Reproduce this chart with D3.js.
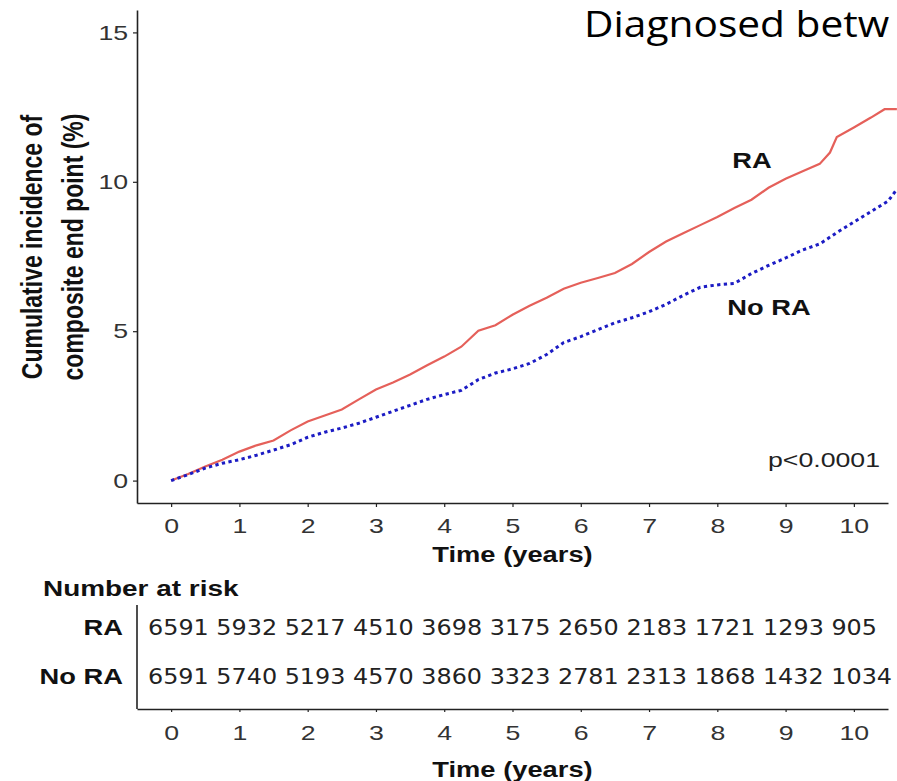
<!DOCTYPE html>
<html>
<head>
<meta charset="utf-8">
<script src="https://cdn.jsdelivr.net/npm/d3@7"></script>
<style>
body{margin:0;background:#fff;}
svg{display:block;}
</style>
</head>
<body>
<div id="chart"></div>
<script>
// cumulative incidence (%)
var raTime  = [0,0.25,0.5,0.75,1,1.25,1.5,1.75,2,2.25,2.5,2.75,3,3.25,3.5,3.75,4,4.25,4.5,4.75,5,5.25,5.5,5.75,6,6.25,6.5,6.75,7,7.25,7.5,7.75,8,8.25,8.5,8.75,9,9.25,9.5,9.65,9.75,10,10.25,10.45,10.63];
var raValue = [0,0.22,0.47,0.70,0.97,1.18,1.34,1.68,1.98,2.18,2.38,2.72,3.05,3.28,3.55,3.86,4.15,4.48,5.02,5.20,5.55,5.85,6.12,6.42,6.62,6.78,6.95,7.25,7.65,8.00,8.28,8.55,8.82,9.12,9.40,9.80,10.10,10.35,10.60,10.98,11.50,11.82,12.15,12.43,12.43];

var noRaTime  = [0,0.25,0.5,0.75,1,1.25,1.5,1.75,2,2.25,2.5,2.75,3,3.25,3.5,3.75,4,4.25,4.5,4.75,5,5.25,5.5,5.75,6,6.25,6.5,6.75,7,7.25,7.5,7.75,8,8.25,8.5,8.75,9,9.25,9.5,9.75,10,10.25,10.5,10.63];
var noRaValue = [0,0.20,0.42,0.58,0.70,0.85,1.02,1.20,1.45,1.62,1.76,1.92,2.12,2.32,2.52,2.72,2.88,3.02,3.38,3.60,3.74,3.92,4.22,4.62,4.82,5.05,5.28,5.45,5.65,5.90,6.20,6.47,6.55,6.60,6.93,7.20,7.45,7.72,7.92,8.30,8.65,9.00,9.35,9.75];

var yTicks = [0,5,10,15];
var xTicks = [0,1,2,3,4,5,6,7,8,9,10];

var riskRows = ["RA","No RA"];
var riskRA   = [6591,5932,5217,4510,3698,3175,2650,2183,1721,1293,905];
var riskNoRA = [6591,5740,5193,4570,3860,3323,2781,2313,1868,1432,1034];

var W = 897, H = 781, SX = 1.27;
var axisFont = "'Liberation Sans', Arial, Helvetica, sans-serif";

var svg = d3.select("#chart").append("svg")
    .attr("width", W)
    .attr("height", H);

var x = d3.scaleLinear().domain([-0.5, 10.5]).range([137, 888]);
var y = d3.scaleLinear().domain([-0.75, 15.75]).range([503, 10]);

function label(txt, px, py, size, weight, anchor, rot) {
    var t = svg.append("text")
        .attr("transform", "translate(" + px + "," + py + ") scale(" + SX + ",1)" + (rot ? " rotate(" + rot + ")" : ""))
        .attr("text-anchor", anchor)
        .style("font-family", axisFont)
        .style("font-size", size + "px")
        .style("font-weight", weight)
        .style("fill", "#111")
        .text(txt);
    return t;
}

// title from the slide
svg.append("text")
    .attr("transform", "translate(584,37) scale(1.13,1)")
    .style("font-family", "'Open Sans', sans-serif")
    .style("font-size", "36px")
    .style("fill", "#000")
    .text("Diagnosed betw");

// curves
var line = d3.line()
    .x(function(d){ return x(d[0]); })
    .y(function(d){ return y(d[1]); });

svg.append("path")
    .datum(d3.zip(raTime, raValue))
    .attr("d", line)
    .attr("fill", "none")
    .attr("stroke", "#e5605a")
    .attr("stroke-width", 2.2);

svg.append("path")
    .datum(d3.zip(noRaTime, noRaValue))
    .attr("d", line)
    .attr("fill", "none")
    .attr("stroke", "#1c1cc4")
    .attr("stroke-width", 3)
    .attr("stroke-dasharray", "3.3,3.4");

// axes
function styleAxis(g) {
    g.select(".domain").attr("stroke", "#222").attr("stroke-width", 1.6);
    g.selectAll(".tick line").attr("stroke", "#222").attr("stroke-width", 1.2);
    g.selectAll(".tick text")
        .style("font-family", axisFont)
        .style("font-size", "21px")
        .style("fill", "#333")
        .attr("transform", "scale(" + SX + ",1)");
}

svg.append("g")
    .attr("transform", "translate(137,0)")
    .call(d3.axisLeft(y).tickValues(yTicks).tickSize(4).tickSizeOuter(0).tickPadding(3))
    .call(styleAxis);

svg.append("g")
    .attr("transform", "translate(0,503)")
    .call(d3.axisBottom(x).tickValues(xTicks).tickSize(4).tickSizeOuter(0).tickPadding(11))
    .call(styleAxis);

label("Cumulative incidence of", 42, 247, 23, "bold", "middle", -90);
label("composite end point (%)", 83, 247, 23, "bold", "middle", -90);
label("Time (years)", x(5), 562, 21.5, "bold", "middle");

label("RA", 752, 168, 21.5, "bold", "middle");
label("No RA", 769, 315, 21.5, "bold", "middle");
label("p<0.0001", 880, 467, 21, "normal", "end").style("fill", "#222");

// number at risk table
label("Number at risk", 43, 596, 22, "bold", "start");

var row = d3.scalePoint().domain(riskRows).range([627, 676]);
var riskData = [riskRA, riskNoRA];
var rowEnd = [877, 892];

svg.append("line")
    .attr("x1", 137).attr("x2", 137)
    .attr("y1", 605).attr("y2", 709)
    .attr("stroke", "#222").attr("stroke-width", 1.6);

riskRows.forEach(function(r, i) {
    label(r, 123, row(r) + 8, 21.5, "bold", "end");
    svg.append("text")
        .attr("x", 148)
        .attr("y", row(r) + 8)
        .attr("textLength", rowEnd[i] - 148)
        .attr("lengthAdjust", "spacingAndGlyphs")
        .style("font-family", "'DejaVu Sans', Verdana, sans-serif")
        .style("font-size", "20.5px")
        .style("fill", "#222")
        .text(riskData[i].join(" "));
});

svg.append("g")
    .attr("transform", "translate(0,709)")
    .call(d3.axisBottom(x).tickValues(xTicks).tickSize(3).tickSizeOuter(0).tickPadding(13))
    .call(styleAxis);

label("Time (years)", x(5), 777, 21.5, "bold", "middle");
</script>
</body>
</html>
